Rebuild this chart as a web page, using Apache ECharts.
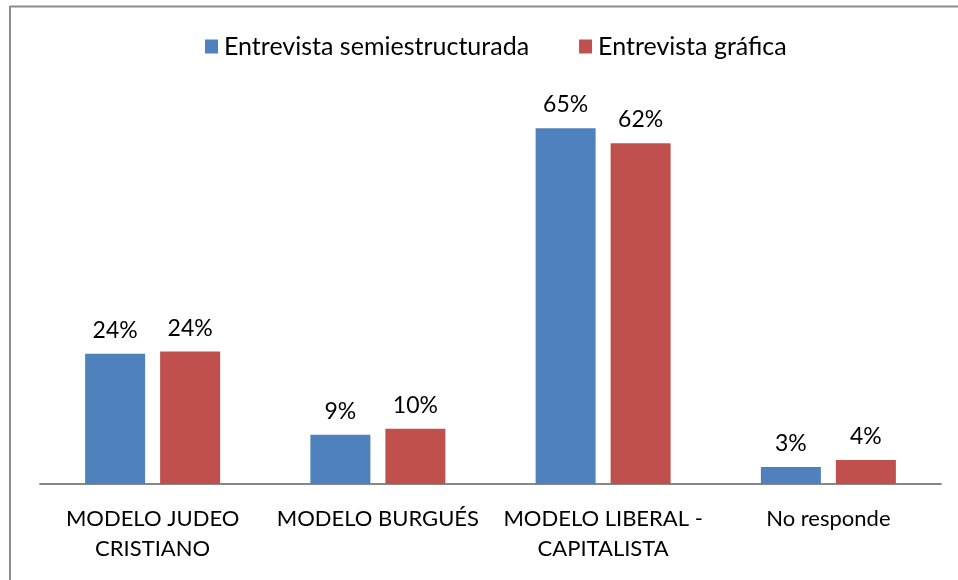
<!DOCTYPE html>
<html>
<head>
<meta charset="utf-8">
<script src="https://cdn.jsdelivr.net/npm/echarts@6/dist/echarts.min.js"></script>
<style>
  html, body { margin: 0; padding: 0; background: #fff; }
  #chart { width: 958px; height: 580px; }
</style>
</head>
<body>
<div id="chart"></div>
<script>
const categories = ["MODELO JUDEO\nCRISTIANO", "MODELO BURGUÉS", "MODELO LIBERAL -\nCAPITALISTA", "No responde"];
const semiestructurada = [23.8, 9.0, 65.0, 3.1];
const grafica = [24.2, 10.1, 62.3, 4.4];

const font = "Lato, 'Open Sans', sans-serif";
const chart = echarts.init(document.getElementById("chart"));

const barLabel = {
  show: true,
  position: "top",
  distance: 12,
  color: "#000",
  fontSize: 23,
  fontFamily: font,
  formatter: (p) => Math.round(p.value) + "%",
};

chart.setOption({
  animation: false,
  graphic: [
    { type: "line", shape: { x1: 10, y1: 6.5, x2: 958, y2: 6.5 }, style: { stroke: "#8c8c8c", lineWidth: 2 } },
    { type: "line", shape: { x1: 10, y1: 6, x2: 10, y2: 580 }, style: { stroke: "#8c8c8c", lineWidth: 2 } },
  ],
  legend: {
    top: 29,
    left: 200,
    itemWidth: 13,
    itemHeight: 14,
    itemGap: 50,
    icon: "rect",
    textStyle: { fontSize: 25, fontFamily: font, color: "#000", padding: [0, 0, 0, 1] },
  },
  grid: { left: 40, right: 17, top: 101, bottom: 96 },
  xAxis: {
    type: "category",
    data: categories,
    axisLine: { lineStyle: { color: "#888", width: 2 } },
    axisTick: { show: false },
    axisLabel: {
      color: "#000",
      fontSize: 22,
      fontFamily: font,
      lineHeight: 30,
      margin: 20,
      interval: 0,
    },
  },
  yAxis: {
    type: "value",
    min: 0,
    max: 70,
    show: false,
    splitLine: { show: false },
  },
  series: [
    {
      name: "Entrevista semiestructurada",
      type: "bar",
      data: semiestructurada,
      barWidth: 60,
      barGap: "25%",
      itemStyle: { color: "#4F81BD" },
      label: barLabel,
    },
    {
      name: "Entrevista gráfica",
      type: "bar",
      data: grafica,
      barWidth: 60,
      itemStyle: { color: "#C0504D" },
      label: barLabel,
    },
  ],
});
</script>
</body>
</html>
